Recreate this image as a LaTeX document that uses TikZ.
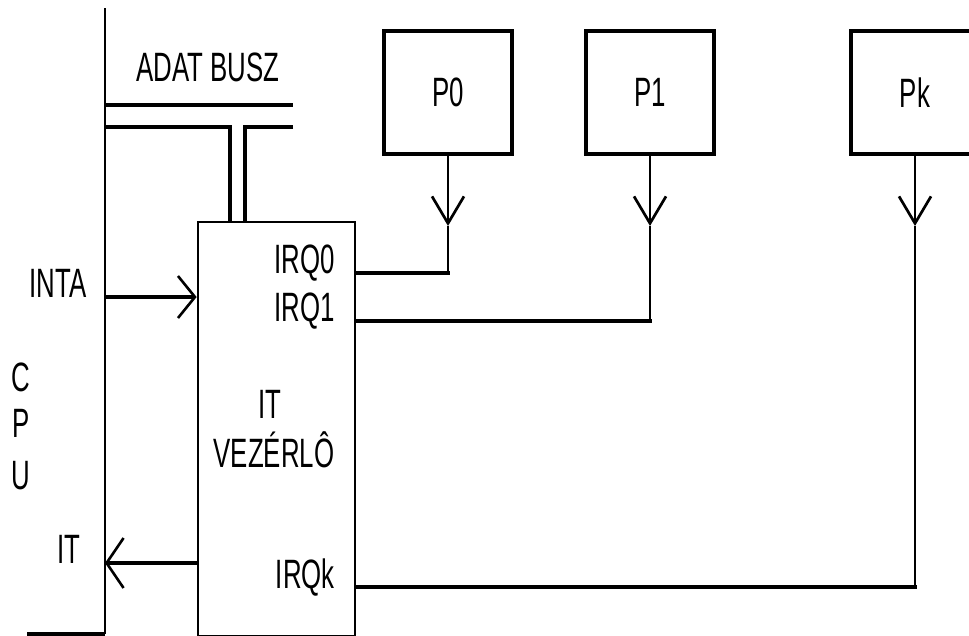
\documentclass[tikz,border=0pt]{standalone}
\usepackage{fontspec}
\setmainfont{Liberation Sans}[FakeStretch=0.63]
\usetikzlibrary{arrows.meta}
\begin{document}
\begin{tikzpicture}[x=1pt,y=-1pt,
  font=\fontsize{41}{46}\selectfont,
  thickline/.style={line width=4pt},
  thinline/.style={line width=2.7pt},
  pbox/.style={draw, line width=4pt, minimum width=128pt, minimum height=123pt, inner sep=0pt},
  downbarb/.style={-{Straight Barb[length=27pt,width=32pt]}},
  sidebarb/.style={-{Straight Barb[length=17pt,width=#1,line width=2.6pt]}},
  lbl/.style={inner sep=0pt, anchor=base}]
\useasboundingbox (0,0) rectangle (969,635);
\clip (0,0) rectangle (969,635);

% peripheral boxes
\node[pbox] (P0) at (448,92.5) {P0};
\node[pbox] (P1) at (650,92.5) {P1};
\node[pbox] (Pk) at (915,92.5) {Pk};

% interrupt controller
\node[draw, line width=2.7pt, minimum width=157pt, minimum height=414pt, inner sep=0pt] (ctrl) at (276.5,429) {};

% CPU line
\coordinate (cpuTop) at (105,8);
\coordinate (cpuBot) at (105,634);
\coordinate (cpuFoot) at (27,634);
\draw[thinline] (cpuTop) -- (cpuBot);
\draw[line width=3.3pt] (cpuBot) -- (cpuFoot);

% data bus
\coordinate (b1s) at (105,105);
\coordinate (b1e) at (293,105);
\coordinate (b2s) at (105,127);
\coordinate (b2a) at (230,127);
\coordinate (b2b) at (245,127);
\coordinate (b2e) at (293,127);
\draw[thickline] (b1s) -- (b1e);
\draw[line width=3.3pt, line join=miter] (b2s) -- (b2a) -- (b2a |- ctrl.north);
\draw[line width=3.3pt, line join=miter] (b2e) -- (b2b) -- (b2b |- ctrl.north);

% interrupt request lines
\coordinate (tip0) at (448,226);
\coordinate (tip1) at (650,226);
\coordinate (tipk) at (915,226);
\coordinate (c0) at (448,273);
\coordinate (c1) at (650,321);
\coordinate (ck) at (915,587);
\draw[thinline, downbarb] (P0.south) -- (tip0);
\draw[thinline, downbarb] (P1.south) -- (tip1);
\draw[thinline, downbarb] (Pk.south) -- (tipk);
\draw[thinline] (tip0) -- (c0);
\draw[thinline] (tip1) -- (c1);
\draw[thinline] (tipk) -- (ck);
\draw[thickline, line cap=rect] (ctrl.east |- c0) -- (c0);
\draw[thickline, line cap=rect] (ctrl.east |- c1) -- (c1);
\draw[thickline, line cap=rect] (ctrl.east |- ck) -- (ck);

% INTA and IT
\coordinate (inta) at (105,297);
\coordinate (itin) at (105,563);
\draw[thickline, sidebarb=42pt] (inta) -- (inta -| ctrl.west);
\draw[thickline, sidebarb=50pt] (itin -| ctrl.west) -- (itin);

% labels
\node[lbl] (lbus) at (208,81) {ADAT BUSZ};
\node[lbl] (linta) at (58,297) {INTA};
\node[lbl, anchor=base east] (lirq0) at (335,273) {IRQ0};
\node[lbl, anchor=base east] (lirq1) at (335,321) {IRQ1};
\node[lbl, anchor=base east] (lirqk) at (335,588) {IRQk};
\node[lbl] (lit1) at (270,418) {IT};
\node[lbl] (lvez) at (274,467) {VEZÉRLÔ};
\node[lbl] (lc) at (21,391) {C};
\node[lbl] (lp) at (21,437) {P};
\node[lbl] (lu) at (21,489) {U};
\node[lbl] (lit2) at (69,563) {IT};
\end{tikzpicture}
\end{document}
